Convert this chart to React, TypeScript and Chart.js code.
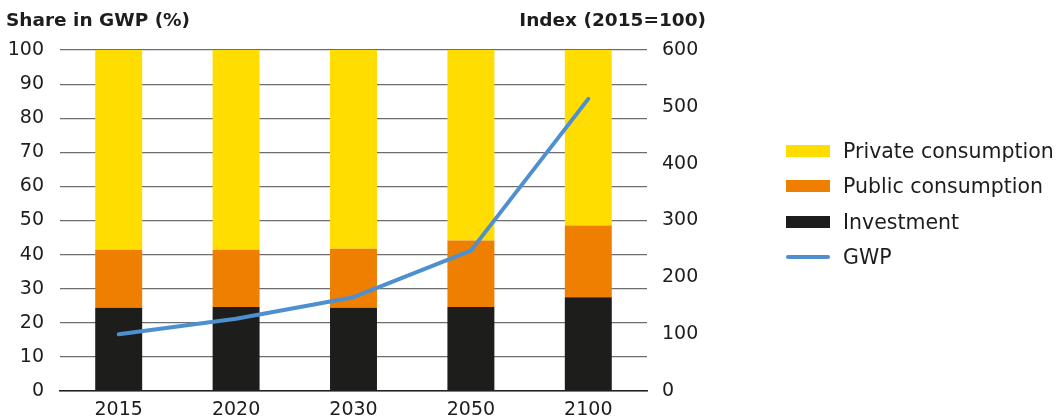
import React, { useEffect, useRef } from "react";
import { Chart, registerables } from "chart.js";

Chart.register(...registerables);

const years = ["2015", "2020", "2030", "2050", "2100"];
const investment = [24.4, 24.6, 24.4, 24.6, 27.5];
const publicConsumption = [17.0, 16.8, 17.3, 19.5, 21.0];
const privateConsumption = [58.6, 58.6, 58.3, 55.9, 51.5];
const gwpIndex = [100, 127, 165, 247, 514];

const seriesNames = ["Private consumption", "Public consumption", "Investment", "GWP"];

const YELLOW = "#FFDD00";
const ORANGE = "#EE7F00";
const BLACK = "#1D1D1B";
const BLUE = "#4E8FD0";
const TEXT = "#1D1D1B";
const FONT = "'DejaVu Sans', sans-serif";

export default function App() {
  const ref = useRef<HTMLCanvasElement | null>(null);

  useEffect(() => {
    if (!ref.current) return;
    const chart = new Chart(ref.current, {
      type: "bar",
      data: {
        labels: years,
        datasets: [
          {
            type: "line",
            label: seriesNames[3],
            data: gwpIndex,
            yAxisID: "y1",
            borderColor: BLUE,
            backgroundColor: BLUE,
            borderWidth: 4,
            pointRadius: 0,
            tension: 0,
            borderCapStyle: "round",
            borderJoinStyle: "round",
            order: 0,
          } as any,
          {
            label: seriesNames[2],
            data: investment,
            backgroundColor: BLACK,
            yAxisID: "y",
            stack: "s",
            order: 1,
          },
          {
            label: seriesNames[1],
            data: publicConsumption,
            backgroundColor: ORANGE,
            yAxisID: "y",
            stack: "s",
            order: 1,
          },
          {
            label: seriesNames[0],
            data: privateConsumption,
            backgroundColor: YELLOW,
            yAxisID: "y",
            stack: "s",
            order: 1,
          },
        ],
      },
      options: {
        responsive: false,
        animation: false,
        layout: { padding: { top: 50, bottom: 0, left: 0, right: 0 } },
        plugins: { legend: { display: false }, tooltip: { enabled: false } },
        datasets: { bar: { categoryPercentage: 1, barPercentage: 0.4 } },
        scales: {
          x: {
            stacked: true,
            grid: { display: false, drawTicks: false },
            border: { display: true, color: "#222", width: 1.5 },
            ticks: { color: TEXT, font: { family: FONT, size: 19 }, padding: 8 },
            afterFit: (s: any) => {
              s.height = 28;
            },
          },
          y: {
            stacked: true,
            position: "left",
            min: 0,
            max: 100,
            ticks: { stepSize: 10, color: TEXT, font: { family: FONT, size: 19 }, padding: 16 },
            grid: { color: "#6e6e6e", lineWidth: 1.2, drawTicks: false },
            border: { display: false },
            afterFit: (s: any) => {
              s.width = 60;
            },
          },
          y1: {
            position: "right",
            min: 0,
            max: 600,
            ticks: { stepSize: 100, color: TEXT, font: { family: FONT, size: 19 }, padding: 15 },
            grid: { display: false, drawTicks: false },
            border: { display: false },
            afterFit: (s: any) => {
              s.width = 411;
            },
          },
        },
      },
    });
    return () => chart.destroy();
  }, []);

  const legendItems = [
    { name: seriesNames[0], color: YELLOW, kind: "box", y: 151 },
    { name: seriesNames[1], color: ORANGE, kind: "box", y: 186 },
    { name: seriesNames[2], color: BLACK, kind: "box", y: 221.5 },
    { name: seriesNames[3], color: BLUE, kind: "line", y: 257 },
  ];

  return (
    <div style={{ position: "absolute", left: 0, top: 0, width: 1058, height: 419, background: "#fff" }}>
      <canvas ref={ref} width={1058} height={419} style={{ position: "absolute", left: 0, top: 0 }} />
      <div
        style={{
          position: "absolute",
          left: 6,
          top: 8,
          fontFamily: FONT,
          fontWeight: "bold",
          fontSize: 18.5,
          color: TEXT,
          lineHeight: "24px",
          whiteSpace: "nowrap",
        }}
      >
        Share in GWP (%)
      </div>
      <div
        style={{
          position: "absolute",
          right: 1058 - 706,
          top: 8,
          fontFamily: FONT,
          fontWeight: "bold",
          fontSize: 18.5,
          color: TEXT,
          lineHeight: "24px",
          whiteSpace: "nowrap",
        }}
      >
        Index (2015=100)
      </div>
      {legendItems.map((it) => (
        <div key={it.name}>
          <div
            style={{
              position: "absolute",
              left: 786,
              top: it.kind === "box" ? it.y - 6 : it.y - 2,
              width: 44,
              height: it.kind === "box" ? 12 : 4,
              borderRadius: it.kind === "box" ? 0 : 2,
              background: it.color,
            }}
          />
          <div
            style={{
              position: "absolute",
              left: 843,
              top: it.y - 13,
              height: 26,
              lineHeight: "26px",
              fontFamily: FONT,
              fontSize: 20.5,
              color: TEXT,
              whiteSpace: "nowrap",
            }}
          >
            {it.name}
          </div>
        </div>
      ))}
    </div>
  );
}
